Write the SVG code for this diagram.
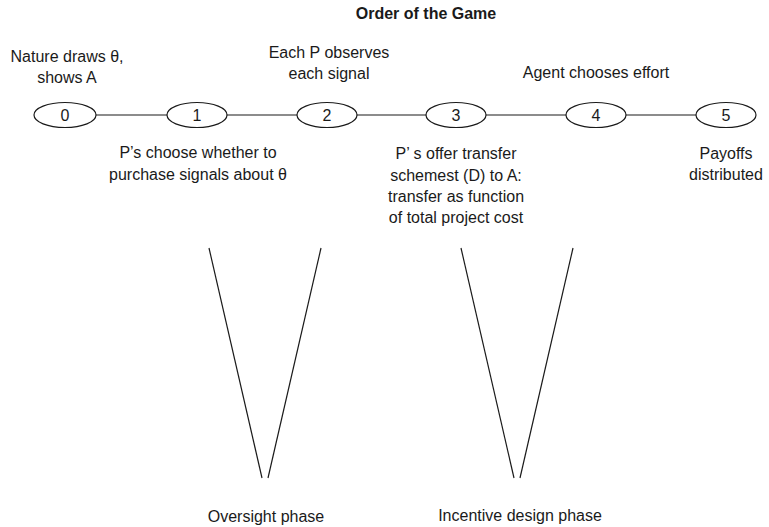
<svg xmlns="http://www.w3.org/2000/svg" width="769" height="527" viewBox="0 0 769 527">
<style>
text{font-family:"Liberation Sans",Arial,Helvetica,sans-serif;font-size:16px;fill:#1a1a1a;text-anchor:middle}
.title{font-weight:bold}
.node ellipse{fill:#fff;stroke:#1a1a1a;stroke-width:1.2}
.conn line{stroke:#1a1a1a;stroke-width:1.2}
</style>
<rect width="769" height="527" fill="#fff"/>
<text class="title" x="426" y="19">Order of the Game</text>
<g id="connectors" class="conn">
<line x1="96" y1="115" x2="167" y2="115"/>
<line x1="227" y1="115" x2="297" y2="115"/>
<line x1="357" y1="115" x2="427" y2="115"/>
<line x1="486" y1="115" x2="566" y2="115"/>
<line x1="625" y1="115" x2="696" y2="115"/>
<line x1="209" y1="248" x2="262" y2="478"/>
<line x1="321" y1="248" x2="268" y2="478"/>
<line x1="461" y1="248" x2="514" y2="478"/>
<line x1="573" y1="248" x2="520" y2="478"/>
</g>
<g id="node0" class="node"><ellipse cx="65" cy="115" rx="31" ry="12.5"/><text x="65" y="121">0</text></g>
<g id="node1" class="node"><ellipse cx="197" cy="115" rx="30" ry="12.5"/><text x="197" y="121">1</text></g>
<g id="node2" class="node"><ellipse cx="327" cy="115" rx="30" ry="12.5"/><text x="327" y="121">2</text></g>
<g id="node3" class="node"><ellipse cx="456" cy="115" rx="30" ry="12.5"/><text x="456" y="121">3</text></g>
<g id="node4" class="node"><ellipse cx="596" cy="115" rx="30" ry="12.5"/><text x="596" y="121">4</text></g>
<g id="node5" class="node"><ellipse cx="726" cy="115" rx="30" ry="12.5"/><text x="726" y="121">5</text></g>
<g id="labels">
<text x="67" y="62">Nature draws θ,</text>
<text x="67" y="83">shows A</text>
<text x="329" y="58">Each P observes</text>
<text x="329" y="79">each signal</text>
<text x="596" y="78">Agent chooses effort</text>
<text x="198" y="158">P’s choose whether to</text>
<text x="198" y="180">purchase signals about θ</text>
<text x="456" y="159">P’ s offer transfer</text>
<text x="456" y="181">schemest (D) to A:</text>
<text x="456" y="202">transfer as function</text>
<text x="456" y="223">of total project cost</text>
<text x="726" y="159">Payoffs</text>
<text x="726" y="180">distributed</text>
<text x="266" y="522">Oversight phase</text>
<text x="520" y="521">Incentive design phase</text>
</g>
</svg>
